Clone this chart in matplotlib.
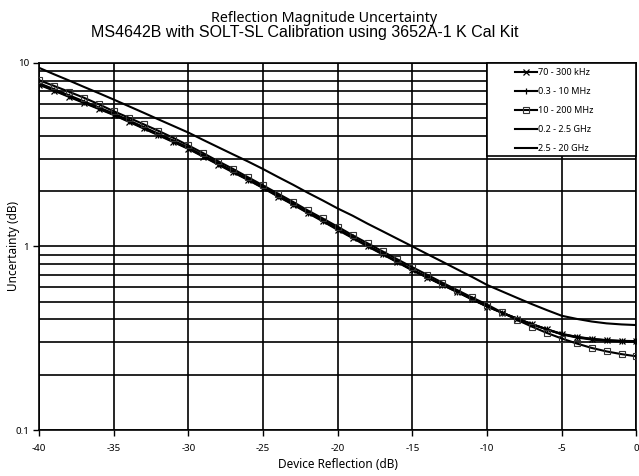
import matplotlib
matplotlib.use("Agg")
import matplotlib.pyplot as plt
from matplotlib.patches import Rectangle
import numpy as np

# Device reflection, dB (one point per dB)
refl = list(range(-40, 1))

# Uncertainty (dB) for each frequency band
unc_70k_300k = [7.60, 7.05, 6.53, 6.05, 5.61, 5.20, 4.78, 4.39, 4.03, 3.70,
                3.40, 3.08, 2.79, 2.53, 2.30, 2.08, 1.87, 1.69, 1.52, 1.37,
                1.23, 1.11, 1.00, 0.906, 0.819, 0.740, 0.676, 0.617, 0.564, 0.514,
                0.470, 0.435, 0.404, 0.377, 0.353, 0.333, 0.321, 0.313, 0.308, 0.305,
                0.304]
unc_03_10m = [7.65, 7.10, 6.58, 6.09, 5.65, 5.23, 4.81, 4.42, 4.06, 3.72,
              3.42, 3.10, 2.81, 2.55, 2.31, 2.09, 1.88, 1.70, 1.53, 1.38,
              1.24, 1.12, 1.01, 0.912, 0.824, 0.744, 0.679, 0.620, 0.566, 0.516,
              0.472, 0.436, 0.405, 0.378, 0.354, 0.334, 0.322, 0.314, 0.309, 0.306,
              0.305]
unc_10_200m = [8.05, 7.49, 6.96, 6.46, 5.95, 5.45, 5.03, 4.63, 4.26, 3.90,
               3.55, 3.22, 2.91, 2.64, 2.38, 2.15, 1.94, 1.75, 1.57, 1.42,
               1.28, 1.15, 1.04, 0.94, 0.85, 0.77, 0.70, 0.635, 0.578, 0.527,
               0.482, 0.437, 0.398, 0.366, 0.338, 0.315, 0.296, 0.280, 0.268, 0.259,
               0.252]
unc_02_25g = [7.75, 7.19, 6.66, 6.17, 5.72, 5.30, 4.87, 4.47, 4.11, 3.77,
              3.46, 3.13, 2.84, 2.57, 2.33, 2.11, 1.90, 1.71, 1.54, 1.39,
              1.25, 1.12, 1.01, 0.915, 0.826, 0.746, 0.681, 0.621, 0.567, 0.517,
              0.472, 0.436, 0.404, 0.377, 0.353, 0.332, 0.319, 0.311, 0.306, 0.303,
              0.302]
unc_25_20g = [9.40, 8.67, 8.02, 7.40, 6.84, 6.31, 5.81, 5.35, 4.92, 4.53,
              4.17, 3.80, 3.47, 3.17, 2.90, 2.64, 2.39, 2.17, 1.96, 1.78,
              1.61, 1.47, 1.33, 1.21, 1.10, 1.00, 0.908, 0.826, 0.750, 0.682,
              0.617, 0.569, 0.525, 0.485, 0.450, 0.419, 0.403, 0.390, 0.381, 0.376,
              0.373]

title_lines = ["Reflection Magnitude Uncertainty",
               "MS4642B with SOLT-SL Calibration using 3652A-1 K Cal Kit"]
x_ticks = [-40, -35, -30, -25, -20, -15, -10, -5, 0]

label_font = "Noto Sans"

fig = plt.figure(figsize=(6.39, 4.76), dpi=100)
ax = fig.add_axes([0.061, 0.0966, 0.935, 0.7714])

ax.set_yscale("log")
ax.set_xlim(-40, 0)
ax.set_ylim(0.1, 10)

# grid: every 5 dB across, every 1-2-...-9 down
ax.set_xticks(x_ticks)
ax.set_xticklabels([str(t) for t in x_ticks], fontfamily=label_font, fontsize=7)
ax.set_yticks([0.1, 1, 10])
ax.set_yticklabels(["0.1", "1", "10"], fontfamily=label_font, fontsize=7)
ax.yaxis.set_minor_formatter(matplotlib.ticker.NullFormatter())
ax.tick_params(axis="y", which="minor", length=0)
ax.tick_params(axis="both", which="major", length=4, width=1.0, direction="out",
               color="black", pad=3)
ax.tick_params(axis="x", pad=6)
ax.grid(True, which="both", axis="y", color="black", lw=1.2)
ax.grid(True, which="major", axis="x", color="black", lw=1.2)
ax.set_axisbelow(True)
for s in ax.spines.values():
    s.set_color("black")
    s.set_linewidth(1.2)

ax.plot(refl, unc_70k_300k, color="black", lw=1.5, marker="x", ms=5,
        mew=0.9, label="70 - 300 kHz", zorder=4)
ax.plot(refl, unc_03_10m, color="black", lw=1.5, marker="|", ms=5,
        mew=0.9, label="0.3 - 10 MHz", zorder=4)
ax.plot(refl, unc_10_200m, color="black", lw=1.5, marker="s", ms=5,
        mew=0.8, mfc="none", mec="#333333", label="10 - 200 MHz", zorder=4)
ax.plot(refl, unc_02_25g, color="black", lw=1.5, label="0.2 - 2.5 GHz", zorder=3)
ax.plot(refl, unc_25_20g, color="black", lw=1.5, label="2.5 - 20 GHz", zorder=3)

# legend sits in a fixed white box in the top-right corner
box = Rectangle((0.75, 0.746), 0.25, 0.254, transform=ax.transAxes,
                facecolor="white", edgecolor="black", lw=1.2, zorder=8,
                clip_on=False)
ax.add_patch(box)
leg = ax.legend(loc="upper left", bbox_to_anchor=(0.796, 0.986), borderaxespad=0,
                borderpad=0, prop={"family": label_font, "size": 6.5},
                frameon=False, handlelength=2.5, handletextpad=0.1,
                labelspacing=1.1)
leg.set_zorder(10)

ax.set_xlabel("Device Reflection (dB)", fontfamily=label_font, fontsize=8.5,
              labelpad=4)
ax.set_ylabel("Uncertainty (dB)", fontfamily=label_font, fontsize=8.5)
ax.yaxis.set_label_coords(-0.032, 0.5)

fig.text(324 / 639, 1 - 18 / 476, title_lines[0], ha="center", va="center",
         fontfamily="Noto Sans", fontsize=10.3)
fig.text(305 / 639, 1 - 32.5 / 476, title_lines[1], ha="center", va="center",
         fontfamily="Liberation Sans", fontsize=11.5)

fig.savefig("out.png", dpi=100)
